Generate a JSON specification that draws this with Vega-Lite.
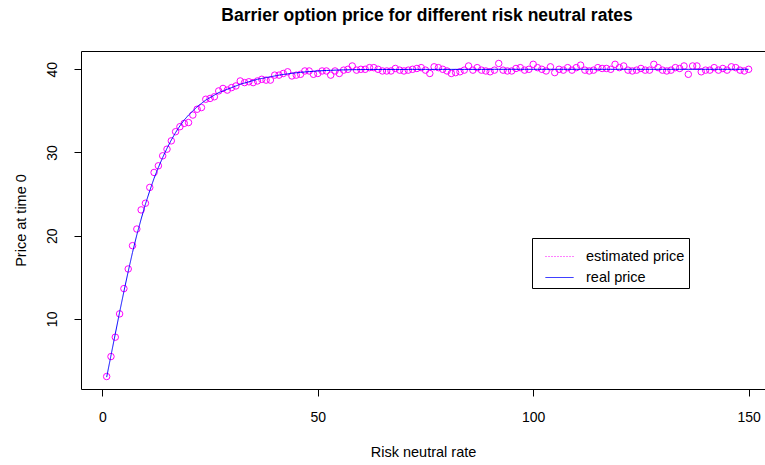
{
  "$schema": "https://vega.github.io/schema/vega-lite/v6.json",
  "width": 684,
  "height": 338,
  "autosize": {"type": "none"},
  "padding": {"left": 81, "top": 51, "right": 0, "bottom": 76},
  "background": "#ffffff",
  "config": {
    "font": "Liberation Sans",
    "view": {"stroke": null},
    "axis": {"grid": false, "domainColor": "#000", "tickColor": "#000", "labelColor": "#000", "titleColor": "#000", "titleFontWeight": "normal", "domainWidth": 1, "tickWidth": 1},
    "legend": {"orient": "none", "legendX": 451, "legendY": 187, "strokeColor": "#000", "fillColor": "#fff", "padding": 4, "symbolType": "stroke", "symbolSize": 784, "symbolStrokeWidth": 1, "symbolOffset": 9, "labelFontSize": 14.5, "labelColor": "#000", "labelOffset": 12, "rowPadding": 0, "labelFont": "Liberation Sans"}
  },
  "title": {"text": "Barrier option price for different risk neutral rates", "fontSize": 17.5, "fontWeight": "bold", "color": "#000", "anchor": "middle", "dx": 4, "offset": 12.5, "baseline": "alphabetic"},
  "datasets": {
    "est": [
      {"x":1,"y":3.07},{"x":2,"y":5.47},{"x":3,"y":7.8},{"x":4,"y":10.6},{"x":5,"y":13.64},{"x":6,"y":16.0},{"x":7,"y":18.8},{"x":8,"y":20.8},{"x":9,"y":23.1},{"x":10,"y":23.9},
      {"x":11,"y":25.8},{"x":12,"y":27.6},{"x":13,"y":28.4},{"x":14,"y":29.6},{"x":15,"y":30.4},{"x":16,"y":31.4},{"x":17,"y":32.5},{"x":18,"y":33.1},{"x":19,"y":33.5},{"x":20,"y":33.6},
      {"x":21,"y":34.5},{"x":22,"y":35.2},{"x":23,"y":35.4},{"x":24,"y":36.4},{"x":25,"y":36.5},{"x":26,"y":36.7},{"x":27,"y":37.4},{"x":28,"y":37.7},{"x":29,"y":37.5},{"x":30,"y":37.8},
      {"x":31,"y":38.0},{"x":32,"y":38.6},{"x":33,"y":38.4},{"x":34,"y":38.5},{"x":35,"y":38.4},{"x":36,"y":38.6},{"x":37,"y":38.8},{"x":38,"y":38.7},{"x":39,"y":38.7},{"x":40,"y":39.3},
      {"x":41,"y":39.3},{"x":42,"y":39.5},{"x":43,"y":39.7},{"x":44,"y":39.2},{"x":45,"y":39.3},{"x":46,"y":39.4},{"x":47,"y":39.8},{"x":48,"y":39.8},{"x":49,"y":39.4},{"x":50,"y":39.5},
      {"x":51,"y":39.8},{"x":52,"y":39.8},{"x":53,"y":39.3},{"x":54,"y":39.8},{"x":55,"y":39.5},{"x":56,"y":39.9},{"x":57,"y":40.0},{"x":58,"y":40.4},{"x":59,"y":39.9},{"x":60,"y":40.0},
      {"x":61,"y":40.0},{"x":62,"y":40.2},{"x":63,"y":40.2},{"x":64,"y":40.0},{"x":65,"y":39.8},{"x":66,"y":39.8},{"x":67,"y":39.8},{"x":68,"y":40.1},{"x":69,"y":39.9},{"x":70,"y":39.8},
      {"x":71,"y":39.9},{"x":72,"y":40.0},{"x":73,"y":40.1},{"x":74,"y":40.2},{"x":75,"y":39.9},{"x":76,"y":39.5},{"x":77,"y":40.3},{"x":78,"y":40.2},{"x":79,"y":40.0},{"x":80,"y":39.8},
      {"x":81,"y":39.5},{"x":82,"y":39.6},{"x":83,"y":39.7},{"x":84,"y":39.9},{"x":85,"y":40.4},{"x":86,"y":39.9},{"x":87,"y":40.2},{"x":88,"y":39.9},{"x":89,"y":39.8},{"x":90,"y":39.7},
      {"x":91,"y":39.9},{"x":92,"y":40.7},{"x":93,"y":39.9},{"x":94,"y":39.8},{"x":95,"y":39.8},{"x":96,"y":40.1},{"x":97,"y":40.2},{"x":98,"y":39.9},{"x":99,"y":40.0},{"x":100,"y":40.6},
      {"x":101,"y":40.2},{"x":102,"y":40.0},{"x":103,"y":39.8},{"x":104,"y":40.3},{"x":105,"y":39.6},{"x":106,"y":40.0},{"x":107,"y":39.9},{"x":108,"y":40.2},{"x":109,"y":39.9},{"x":110,"y":40.2},
      {"x":111,"y":40.5},{"x":112,"y":39.9},{"x":113,"y":39.8},{"x":114,"y":39.9},{"x":115,"y":40.2},{"x":116,"y":40.1},{"x":117,"y":40.1},{"x":118,"y":40.0},{"x":119,"y":40.6},{"x":120,"y":40.2},
      {"x":121,"y":40.4},{"x":122,"y":39.9},{"x":123,"y":39.8},{"x":124,"y":39.9},{"x":125,"y":40.1},{"x":126,"y":39.9},{"x":127,"y":39.9},{"x":128,"y":40.6},{"x":129,"y":40.2},{"x":130,"y":39.9},
      {"x":131,"y":39.8},{"x":132,"y":39.9},{"x":133,"y":40.2},{"x":134,"y":40.1},{"x":135,"y":40.4},{"x":136,"y":39.4},{"x":137,"y":40.4},{"x":138,"y":40.4},{"x":139,"y":39.7},{"x":140,"y":39.9},
      {"x":141,"y":39.9},{"x":142,"y":40.2},{"x":143,"y":39.9},{"x":144,"y":40.1},{"x":145,"y":39.9},{"x":146,"y":40.3},{"x":147,"y":40.2},{"x":148,"y":39.9},{"x":149,"y":39.8},{"x":150,"y":40.0}
    ],
    "real": [
      {"x":1,"y":3.0,"s":"real price"},{"x":2,"y":5.6,"s":"real price"},{"x":3,"y":8.2,"s":"real price"},{"x":4,"y":10.8,"s":"real price"},{"x":5,"y":13.3,"s":"real price"},{"x":6,"y":15.7,"s":"real price"},{"x":7,"y":18.0,"s":"real price"},{"x":8,"y":20.1,"s":"real price"},{"x":9,"y":22.0,"s":"real price"},{"x":10,"y":23.8,"s":"real price"},
      {"x":11,"y":25.4,"s":"real price"},{"x":12,"y":26.9,"s":"real price"},{"x":13,"y":28.2,"s":"real price"},{"x":14,"y":29.4,"s":"real price"},{"x":15,"y":30.5,"s":"real price"},{"x":16,"y":31.5,"s":"real price"},{"x":17,"y":32.4,"s":"real price"},{"x":18,"y":33.2,"s":"real price"},{"x":19,"y":33.9,"s":"real price"},{"x":20,"y":34.5,"s":"real price"},
      {"x":21,"y":35.0,"s":"real price"},{"x":22,"y":35.5,"s":"real price"},{"x":23,"y":35.9,"s":"real price"},{"x":24,"y":36.3,"s":"real price"},{"x":25,"y":36.6,"s":"real price"},{"x":26,"y":36.9,"s":"real price"},{"x":27,"y":37.2,"s":"real price"},{"x":28,"y":37.4,"s":"real price"},{"x":29,"y":37.6,"s":"real price"},{"x":30,"y":37.8,"s":"real price"},
      {"x":31,"y":38.0,"s":"real price"},{"x":32,"y":38.2,"s":"real price"},{"x":33,"y":38.35,"s":"real price"},{"x":34,"y":38.5,"s":"real price"},{"x":35,"y":38.65,"s":"real price"},{"x":36,"y":38.8,"s":"real price"},{"x":37,"y":38.9,"s":"real price"},{"x":38,"y":39.0,"s":"real price"},{"x":39,"y":39.1,"s":"real price"},{"x":40,"y":39.2,"s":"real price"},
      {"x":41,"y":39.3,"s":"real price"},{"x":42,"y":39.38,"s":"real price"},{"x":43,"y":39.45,"s":"real price"},{"x":44,"y":39.52,"s":"real price"},{"x":45,"y":39.58,"s":"real price"},{"x":46,"y":39.63,"s":"real price"},{"x":47,"y":39.68,"s":"real price"},{"x":48,"y":39.72,"s":"real price"},{"x":49,"y":39.76,"s":"real price"},{"x":50,"y":39.8,"s":"real price"},
      {"x":51,"y":39.83,"s":"real price"},{"x":52,"y":39.86,"s":"real price"},{"x":53,"y":39.88,"s":"real price"},{"x":54,"y":39.9,"s":"real price"},{"x":55,"y":39.92,"s":"real price"},{"x":56,"y":39.93,"s":"real price"},{"x":57,"y":39.94,"s":"real price"},{"x":58,"y":39.95,"s":"real price"},{"x":59,"y":39.96,"s":"real price"},{"x":60,"y":39.97,"s":"real price"},
      {"x":61,"y":39.97,"s":"real price"},{"x":62,"y":39.98,"s":"real price"},{"x":63,"y":39.98,"s":"real price"},{"x":64,"y":39.98,"s":"real price"},{"x":65,"y":39.98,"s":"real price"},{"x":66,"y":39.98,"s":"real price"},{"x":67,"y":39.98,"s":"real price"},{"x":68,"y":39.98,"s":"real price"},{"x":69,"y":39.98,"s":"real price"},{"x":70,"y":39.98,"s":"real price"},
      {"x":71,"y":39.99,"s":"real price"},{"x":72,"y":39.99,"s":"real price"},{"x":73,"y":39.99,"s":"real price"},{"x":74,"y":39.99,"s":"real price"},{"x":75,"y":39.99,"s":"real price"},{"x":76,"y":39.99,"s":"real price"},{"x":77,"y":39.99,"s":"real price"},{"x":78,"y":39.99,"s":"real price"},{"x":79,"y":39.99,"s":"real price"},{"x":80,"y":39.99,"s":"real price"},
      {"x":81,"y":39.99,"s":"real price"},{"x":82,"y":39.99,"s":"real price"},{"x":83,"y":39.99,"s":"real price"},{"x":84,"y":39.99,"s":"real price"},{"x":85,"y":39.99,"s":"real price"},{"x":86,"y":39.99,"s":"real price"},{"x":87,"y":39.99,"s":"real price"},{"x":88,"y":39.99,"s":"real price"},{"x":89,"y":39.99,"s":"real price"},{"x":90,"y":39.99,"s":"real price"},
      {"x":91,"y":40.0,"s":"real price"},{"x":92,"y":40.0,"s":"real price"},{"x":93,"y":40.0,"s":"real price"},{"x":94,"y":40.0,"s":"real price"},{"x":95,"y":40.0,"s":"real price"},{"x":96,"y":40.0,"s":"real price"},{"x":97,"y":40.0,"s":"real price"},{"x":98,"y":40.0,"s":"real price"},{"x":99,"y":40.0,"s":"real price"},{"x":100,"y":40.0,"s":"real price"},
      {"x":101,"y":40.0,"s":"real price"},{"x":102,"y":40.0,"s":"real price"},{"x":103,"y":40.0,"s":"real price"},{"x":104,"y":40.0,"s":"real price"},{"x":105,"y":40.0,"s":"real price"},{"x":106,"y":40.0,"s":"real price"},{"x":107,"y":40.0,"s":"real price"},{"x":108,"y":40.0,"s":"real price"},{"x":109,"y":40.0,"s":"real price"},{"x":110,"y":40.0,"s":"real price"},
      {"x":111,"y":40.0,"s":"real price"},{"x":112,"y":40.0,"s":"real price"},{"x":113,"y":40.0,"s":"real price"},{"x":114,"y":40.0,"s":"real price"},{"x":115,"y":40.0,"s":"real price"},{"x":116,"y":40.0,"s":"real price"},{"x":117,"y":40.0,"s":"real price"},{"x":118,"y":40.0,"s":"real price"},{"x":119,"y":40.0,"s":"real price"},{"x":120,"y":40.0,"s":"real price"},
      {"x":121,"y":40.0,"s":"real price"},{"x":122,"y":40.0,"s":"real price"},{"x":123,"y":40.0,"s":"real price"},{"x":124,"y":40.0,"s":"real price"},{"x":125,"y":40.0,"s":"real price"},{"x":126,"y":40.0,"s":"real price"},{"x":127,"y":40.0,"s":"real price"},{"x":128,"y":40.0,"s":"real price"},{"x":129,"y":40.0,"s":"real price"},{"x":130,"y":40.0,"s":"real price"},
      {"x":131,"y":40.0,"s":"real price"},{"x":132,"y":40.0,"s":"real price"},{"x":133,"y":40.0,"s":"real price"},{"x":134,"y":40.0,"s":"real price"},{"x":135,"y":40.0,"s":"real price"},{"x":136,"y":40.0,"s":"real price"},{"x":137,"y":40.0,"s":"real price"},{"x":138,"y":40.0,"s":"real price"},{"x":139,"y":40.0,"s":"real price"},{"x":140,"y":40.0,"s":"real price"},
      {"x":141,"y":40.0,"s":"real price"},{"x":142,"y":40.0,"s":"real price"},{"x":143,"y":40.0,"s":"real price"},{"x":144,"y":40.0,"s":"real price"},{"x":145,"y":40.0,"s":"real price"},{"x":146,"y":40.0,"s":"real price"},{"x":147,"y":40.0,"s":"real price"},{"x":148,"y":40.0,"s":"real price"},{"x":149,"y":40.0,"s":"real price"},{"x":150,"y":40.0,"s":"real price"}
    ]
  },
  "layer": [
    {
      "data": {"name": "est"},
      "mark": {"type": "point", "shape": "circle", "filled": false, "color": "#ff00ff", "size": 42, "strokeWidth": 1, "opacity": 1},
      "encoding": {
        "x": {"field": "x", "type": "quantitative", "scale": {"domain": [-4.96, 153.8], "nice": false, "zero": false},
              "axis": {"orient": "bottom", "values": [0, 50, 100, 150], "format": "d", "tickSize": 7, "labelFontSize": 14, "labelPadding": 14, "title": "Risk neutral rate", "titleFontSize": 14.5, "titlePadding": 21}},
        "y": {"field": "y", "type": "quantitative", "scale": {"domain": [1.57, 42.2], "nice": false, "zero": false},
              "axis": {"values": [10, 20, 30, 40], "format": "d", "tickSize": 7, "labelFontSize": 14, "labelAngle": 270, "labelAlign": "center", "labelBaseline": "alphabetic", "labelPadding": 18, "title": "Price at time 0", "titleFontSize": 14.5, "titlePadding": 17}}
      }
    },
    {
      "data": {"name": "real"},
      "mark": {"type": "line", "strokeWidth": 1},
      "encoding": {
        "x": {"field": "x", "type": "quantitative", "axis": {"orient": "top", "ticks": false, "labels": false, "title": null}},
        "y": {"field": "y", "type": "quantitative"},
        "color": {"field": "s", "type": "nominal", "scale": {"domain": ["estimated price", "real price"], "range": ["#ff00ff", "#0000ff"]}, "legend": {"title": null}},
        "strokeDash": {"field": "s", "type": "nominal", "scale": {"domain": ["estimated price", "real price"], "range": [[1, 2], [1, 0]]}, "legend": {"title": null}}
      }
    }
  ],
  "resolve": {"axis": {"x": "independent"}}
}
